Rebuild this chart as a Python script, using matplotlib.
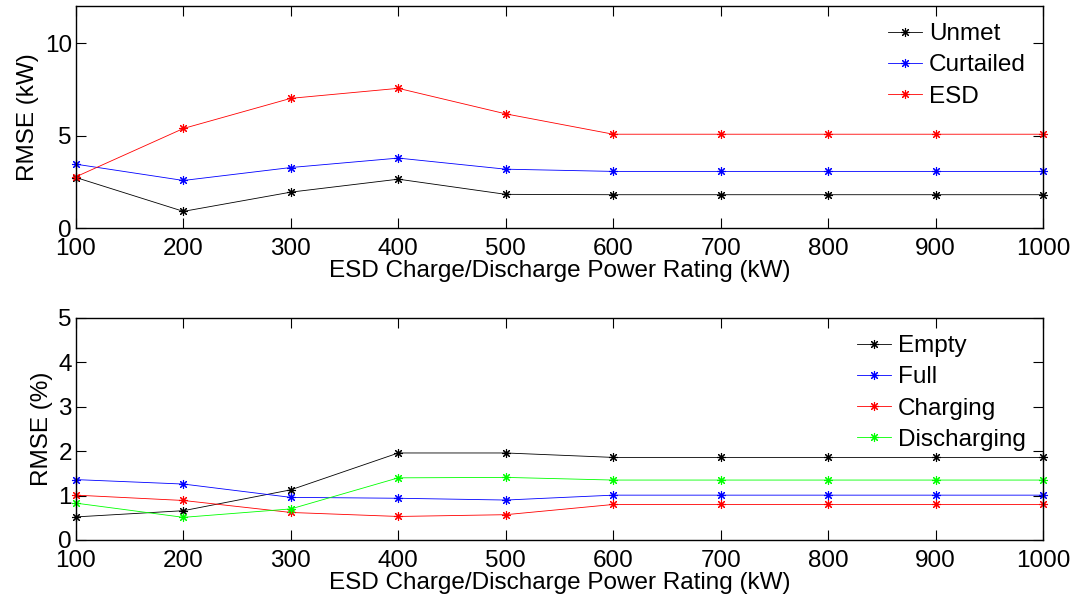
import matplotlib
matplotlib.use("Agg")
import matplotlib.pyplot as plt

plt.rcParams['font.family'] = ['Liberation Sans', 'DejaVu Sans']

# ESD charge/discharge power ratings (kW)
ratings = [100, 200, 300, 400, 500, 600, 700, 800, 900, 1000]

# RMSE of power flows (kW)
unmet = [2.73, 0.90, 1.94, 2.64, 1.82, 1.80, 1.80, 1.80, 1.80, 1.80]
curtailed = [3.45, 2.57, 3.27, 3.78, 3.18, 3.06, 3.06, 3.06, 3.06, 3.06]
esd = [2.77, 5.38, 7.01, 7.55, 6.17, 5.07, 5.07, 5.07, 5.07, 5.07]

# RMSE of ESD state (%)
empty = [0.52, 0.66, 1.13, 1.96, 1.96, 1.86, 1.86, 1.86, 1.86, 1.86]
full = [1.36, 1.26, 0.96, 0.94, 0.90, 1.01, 1.01, 1.01, 1.01, 1.01]
charging = [1.01, 0.89, 0.62, 0.53, 0.57, 0.80, 0.80, 0.80, 0.80, 0.80]
discharging = [0.83, 0.51, 0.70, 1.40, 1.41, 1.35, 1.35, 1.35, 1.35, 1.35]

xlabel = 'ESD Charge/Discharge Power Rating (kW)'
FS = 17.5

fig = plt.figure(figsize=(10.82, 6.01), dpi=100)
ax1 = fig.add_axes([0.0702, 0.6206, 0.8938, 0.3694])
ax2 = fig.add_axes([0.0702, 0.1015, 0.8938, 0.3694])

# MATLAB-style asterisk marker (8 spokes)
line_kw = dict(marker=(8, 2, 0), markersize=6.5, linewidth=0.6,
               markeredgewidth=0.8, clip_on=False)

ax1.plot(ratings, unmet, color='black', label='Unmet', **line_kw)
ax1.plot(ratings, curtailed, color='blue', label='Curtailed', **line_kw)
ax1.plot(ratings, esd, color='red', label='ESD', **line_kw)
ax1.set_ylim(0, 12)
ax1.set_yticks([0, 5, 10])
ax1.set_ylabel('RMSE (kW)', fontsize=FS, labelpad=4)

ax2.plot(ratings, empty, color='black', label='Empty', **line_kw)
ax2.plot(ratings, full, color='blue', label='Full', **line_kw)
ax2.plot(ratings, charging, color='red', label='Charging', **line_kw)
ax2.plot(ratings, discharging, color='#00ff00', label='Discharging', **line_kw)
ax2.set_ylim(0, 5)
ax2.set_yticks([0, 1, 2, 3, 4, 5])
ax2.set_ylabel('RMSE (%)', fontsize=FS, labelpad=4)

for ax in (ax1, ax2):
    ax.set_xlim(100, 1000)
    ax.set_xticks(ratings)
    ax.set_xlabel(xlabel, fontsize=FS, labelpad=0)
    ax.tick_params(direction='in', length=7, width=0.8, labelsize=FS,
                   top=True, right=True)
    ax.tick_params(axis='x', pad=7)
    ax.tick_params(axis='y', pad=3)
    for s in ax.spines.values():
        s.set_linewidth(1.0)
    ax.legend(loc='upper right', frameon=False, fontsize=FS,
              handlelength=1.4, handletextpad=0.3, labelspacing=0.38,
              borderaxespad=0.3, borderpad=0.4)

fig.savefig('out.png', dpi=100)
